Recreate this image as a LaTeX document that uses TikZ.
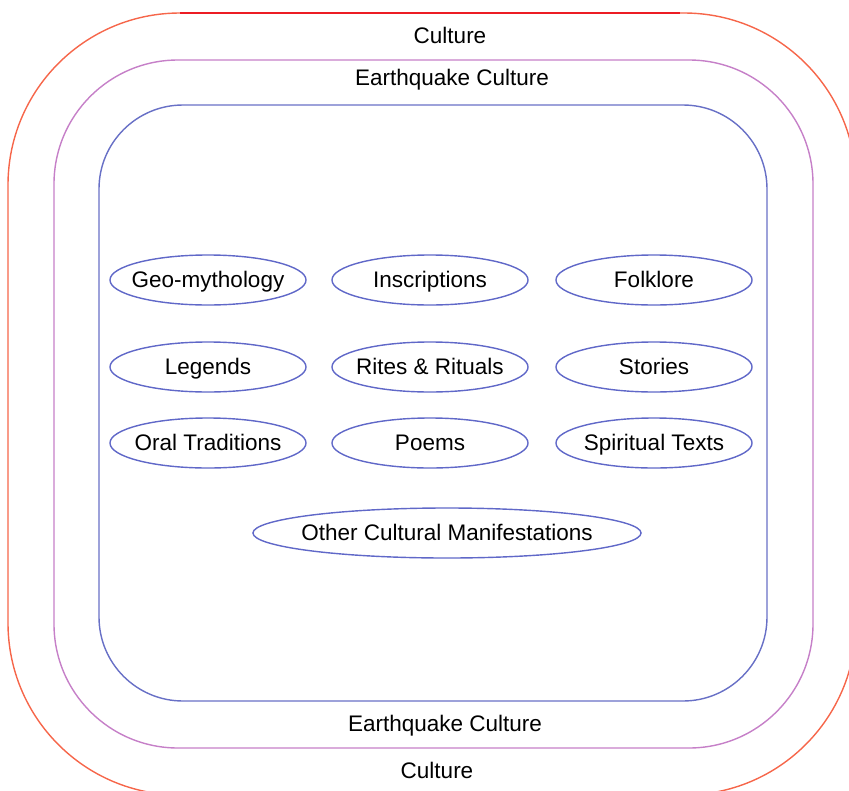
\documentclass[tikz,border=0pt]{standalone}
\usepackage{fontspec}
\setmainfont{Liberation Sans}
\usepackage{xcolor}
\usetikzlibrary{shapes.geometric}

\definecolor{culturered}{RGB}{236,28,36}
\definecolor{cultureorange}{RGB}{246,102,74}
\definecolor{quakepurple}{RGB}{198,128,200}
\definecolor{innerblue}{RGB}{104,112,198}
\definecolor{ovalblue}{RGB}{96,104,200}

\newcommand{\ovaltext}[1]{\makebox[0pt]{#1}}

\tikzset{
  oval/.style={ellipse,draw=ovalblue,line width=1pt,minimum width=4.9cm,minimum height=1.25cm,inner sep=0pt,text height=11pt,text depth=0pt,font=\fontsize{16}{18}\selectfont},
  ringlabel/.style={font=\fontsize{16}{18}\selectfont}
}

\begin{document}
\begin{tikzpicture}[x=0.025cm,y=-0.025cm]
\useasboundingbox (0,0) rectangle (849,790);
\coordinate (A) at (8,13);
\coordinate (B) at (856,795);
\coordinate (C) at (54,60);
\coordinate (D) at (813,748);
\coordinate (E) at (99,105);
\coordinate (F) at (767,701);
% the three rings
\draw[cultureorange,line width=1pt,rounded corners=4.3cm] (A) rectangle (B);
\draw[culturered,line width=1pt] (180,13)--(680,13);
\draw[quakepurple,line width=1pt,rounded corners=3.1cm] (C) rectangle (D);
\draw[innerblue,line width=1pt,rounded corners=2.1cm] (E) rectangle (F);
\node[ringlabel] (cultop) at (450,35) {Culture};
\node[ringlabel] (eqtop) at (452,80) {Earthquake Culture};
\node[ringlabel] (eqbot) at (445,726) {Earthquake Culture};
\node[ringlabel] (culbot) at (437,770) {Culture};
% manifestations
\node[oval] (geo) at (208,280) {\ovaltext{Geo-mythology}};
\node[oval] (ins) at (430,280) {\ovaltext{Inscriptions}};
\node[oval] (folk) at (654,280) {\ovaltext{Folklore}};
\node[oval] (leg) at (208,367) {\ovaltext{Legends}};
\node[oval] (rites) at (430,367) {\ovaltext{Rites \& Rituals}};
\node[oval] (stor) at (654,367) {\ovaltext{Stories}};
\node[oval] (oral) at (208,443) {\ovaltext{Oral Traditions}};
\node[oval] (poem) at (430,443) {\ovaltext{Poems}};
\node[oval] (spir) at (654,443) {\ovaltext{Spiritual Texts}};
\node[oval,minimum width=9.7cm] (other) at (447,533) {\ovaltext{Other Cultural Manifestations}};
\end{tikzpicture}
\end{document}
